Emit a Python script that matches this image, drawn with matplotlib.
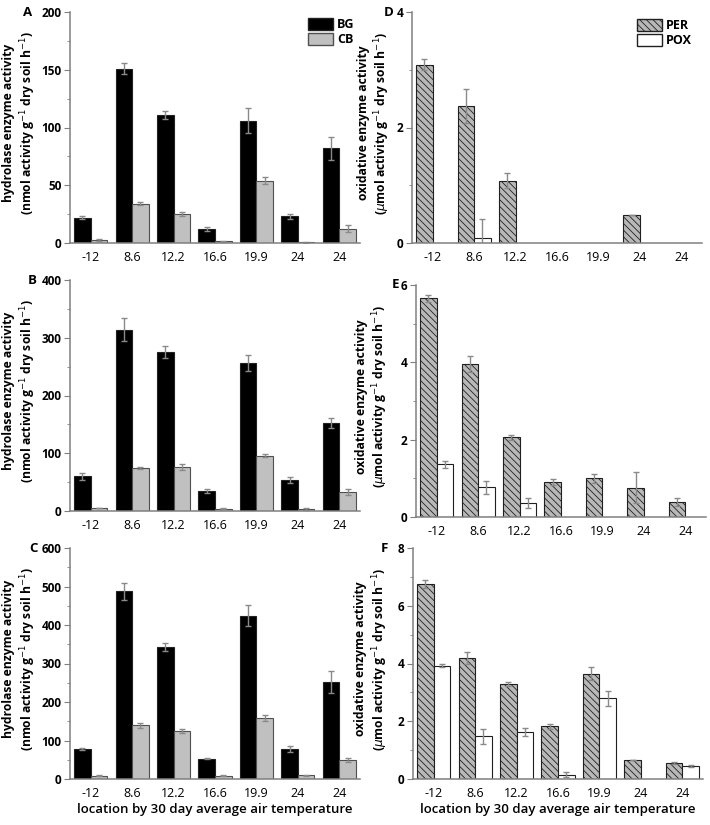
import numpy as np
import matplotlib
matplotlib.use("Agg")
import matplotlib.pyplot as plt
from matplotlib.ticker import MultipleLocator
from matplotlib.patches import Patch

plt.rcParams['font.family'] = ['Open Sans', 'DejaVu Sans']
plt.rcParams['hatch.linewidth'] = 0.6

locations = ["-12", "8.6", "12.2", "16.6", "19.9", "24", "24"]

# hydrolase (nmol activity g-1 dry soil h-1)
bg_a = [22, 151, 111, 12, 106, 23, 82]
bg_a_err = [1, 4.5, 3.5, 1.5, 11, 2.5, 10]
cb_a = [2.5, 34, 25, 1.5, 54, 0.5, 12.5]
cb_a_err = [1, 1.5, 2, 0.5, 3, 0.3, 3]

bg_b = [60, 314, 275, 35, 256, 54, 152]
bg_b_err = [6, 20, 10, 3, 14, 5, 9]
cb_b = [5, 74, 76, 4, 96, 4, 33]
cb_b_err = [0.5, 1.5, 5, 1, 3, 2, 5]

bg_c = [78, 488, 343, 53, 424, 79, 252]
bg_c_err = [2, 22, 11, 1, 27, 8, 28]
cb_c = [9, 139, 125, 9, 158, 10, 50]
cb_c_err = [1, 7, 5, 2, 7, 1.5, 5]

# oxidative (umol activity g-1 dry soil h-1)
per_d = [3.09, 2.37, 1.08, 0, 0, 0.49, 0]
per_d_err = [0.1, 0.29, 0.13, 0, 0, 0, 0]
pox_d = [0, 0.08, 0, 0, 0, 0, 0]
pox_d_err = [0, 0.34, 0, 0, 0, 0, 0]

per_e = [5.66, 3.96, 2.06, 0.9, 1.0, 0.76, 0.39]
per_e_err = [0.09, 0.21, 0.06, 0.07, 0.11, 0.41, 0.1]
pox_e = [1.37, 0.77, 0.36, 0, 0, 0, 0]
pox_e_err = [0.09, 0.17, 0.13, 0, 0, 0, 0]

per_f = [6.75, 4.19, 3.29, 1.82, 3.65, 0.65, 0.55]
per_f_err = [0.15, 0.21, 0.07, 0.08, 0.22, 0, 0.03]
pox_f = [3.93, 1.48, 1.63, 0.15, 2.79, 0, 0.44]
pox_f_err = [0.05, 0.26, 0.14, 0.08, 0.27, 0, 0.03]

W, H = 710, 825
fig = plt.figure(figsize=(W / 100, H / 100), dpi=100)

def ax_at(left, top, right, bottom):
    return fig.add_axes([left / W, 1 - bottom / H, (right - left) / W, (bottom - top) / H])

hyd_label = "hydrolase enzyme activity\n(nmol activity g$^{-1}$ dry soil h$^{-1}$)"
oxi_label = "oxidative enzyme activity\n($\\mu$mol activity g$^{-1}$ dry soil h$^{-1}$)"
axis_gray = "#808080"
err_kw = dict(ecolor="#8a8a8a", elinewidth=1, capsize=2.5, capthick=1)
bw = 0.4

def style(ax, ymax, major, letter, letter_x, ylabel, label_x, xlabel=False):
    for s in ["top", "right"]:
        ax.spines[s].set_visible(False)
    for s in ["left", "bottom"]:
        ax.spines[s].set_color(axis_gray)
        ax.spines[s].set_linewidth(1.1)
    ax.set_xlim(-0.5, 6.5)
    ax.set_ylim(0, ymax)
    ax.yaxis.set_major_locator(MultipleLocator(major))
    ax.yaxis.set_minor_locator(MultipleLocator(major / 2))
    ax.tick_params(axis="y", which="both", direction="out", color=axis_gray, labelsize=8.5, pad=2)
    ax.tick_params(axis="y", which="major", length=4)
    ax.tick_params(axis="y", which="minor", length=2.5)
    ax.tick_params(axis="x", length=0, labelsize=9, pad=6)
    ax.set_xticks(range(7))
    ax.set_xticklabels(locations)
    for t in ax.get_yticklabels():
        t.set_fontweight("bold")
    ax.set_ylabel(ylabel, fontsize=8.7, fontweight="bold", linespacing=1.2)
    ax.yaxis.set_label_coords(label_x, 0.52)
    ax.text(letter_x, 1.0, letter, transform=ax.transAxes, fontsize=9.5, fontweight="bold",
            va="center", ha="left")
    if xlabel:
        ax.set_xlabel("location by 30 day average air temperature", fontsize=9.5,
                      fontweight="semibold", labelpad=2)

def hydro(ax, bg, bge, cb, cbe):
    x = np.arange(7)
    ax.bar(x - bw / 2, bg, bw, color="black", edgecolor="#222222", linewidth=0.8,
           yerr=bge, error_kw=err_kw, zorder=2)
    ax.bar(x + bw / 2, cb, bw, color="#c0c0c0", edgecolor="#505050", linewidth=0.8,
           yerr=cbe, error_kw=err_kw, zorder=2)

def oxid(ax, per, pere, pox, poxe):
    x = np.arange(7)
    per = np.array(per)
    pox = np.array(pox)
    m = per > 0
    ax.bar(x[m] - bw / 2, per[m], bw, color="#b8b8b8", edgecolor="#202020", hatch="\\\\\\\\\\",
           linewidth=0.8, yerr=np.array(pere)[m], error_kw=err_kw, zorder=2)
    m = pox > 0
    ax.bar(x[m] + bw / 2, pox[m], bw, color="white", edgecolor="#202020",
           linewidth=0.8, yerr=np.array(poxe)[m], error_kw=err_kw, zorder=2)

leg_kw = dict(loc="upper left", frameon=False, borderpad=0, borderaxespad=0,
              handlelength=2.0, handleheight=1.15, handletextpad=0.3, labelspacing=0.12,
              prop={"weight": "bold", "size": 9})

ax_a = ax_at(70, 12, 360, 243)
hydro(ax_a, bg_a, bg_a_err, cb_a, cb_a_err)
style(ax_a, 200, 50, "A", -0.162, hyd_label, -0.112)
ax_a.legend(handles=[Patch(facecolor="black", edgecolor="#222222", label="BG"),
                     Patch(facecolor="#c0c0c0", edgecolor="#505050", label="CB")],
            bbox_to_anchor=(0.822, 0.975), **leg_kw)

ax_b = ax_at(70, 280, 360, 511)
hydro(ax_b, bg_b, bg_b_err, cb_b, cb_b_err)
style(ax_b, 400, 100, "B", -0.145, hyd_label, -0.112)

ax_c = ax_at(70, 548, 360, 779)
hydro(ax_c, bg_c, bg_c_err, cb_c, cb_c_err)
style(ax_c, 600, 100, "C", -0.14, hyd_label, -0.112, xlabel=True)

ax_d = ax_at(412, 12, 702, 243)
oxid(ax_d, per_d, per_d_err, pox_d, pox_d_err)
style(ax_d, 4, 2, "D", -0.098, oxi_label, -0.068)
ax_d.legend(handles=[Patch(facecolor="#b8b8b8", edgecolor="#202020", hatch="\\\\\\\\\\", label="PER"),
                     Patch(facecolor="white", edgecolor="#202020", label="POX")],
            bbox_to_anchor=(0.776, 0.97), **leg_kw)

ax_e = ax_at(416, 285, 706, 517)
oxid(ax_e, per_e, per_e_err, pox_e, pox_e_err)
style(ax_e, 6, 2, "E", -0.085, oxi_label, -0.088)

ax_f = ax_at(413, 548, 703, 779)
oxid(ax_f, per_f, per_f_err, pox_f, pox_f_err)
style(ax_f, 8, 2, "F", -0.11, oxi_label, -0.08, xlabel=True)

fig.savefig("out.png", dpi=100)
